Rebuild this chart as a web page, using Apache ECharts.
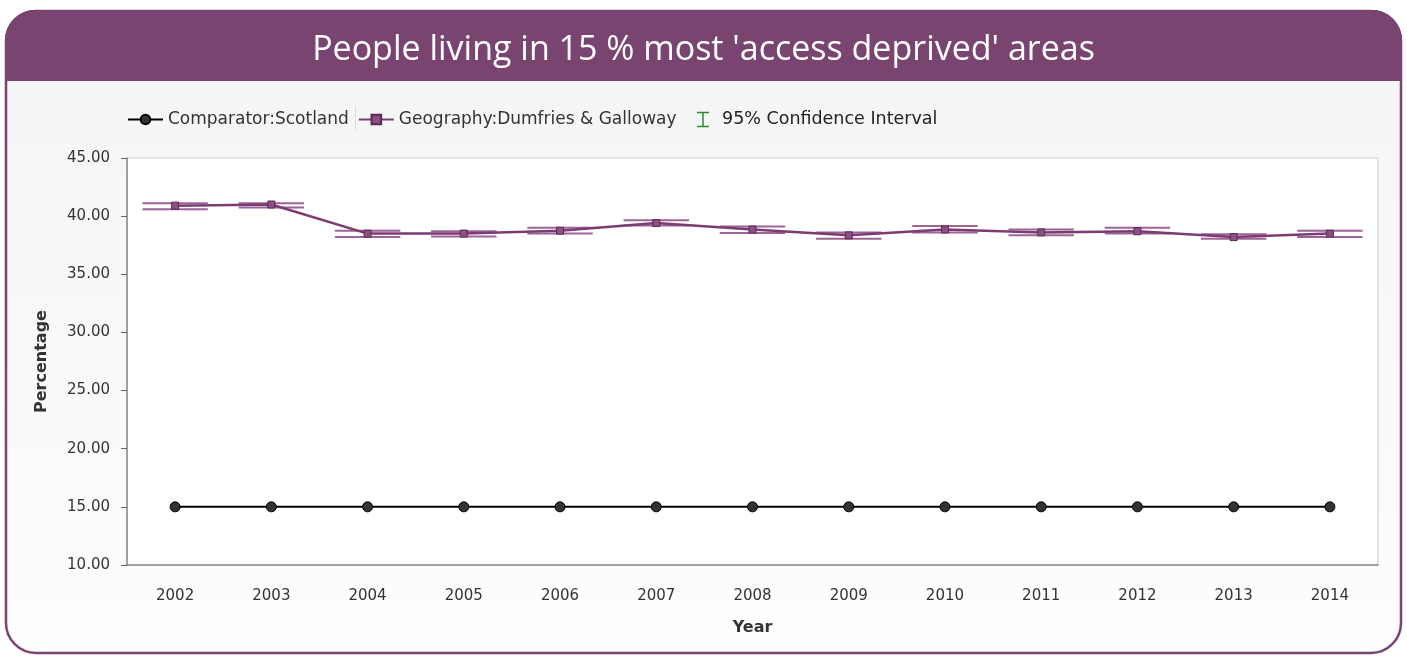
<!DOCTYPE html>
<html>
<head>
<meta charset="utf-8">
<script src="https://cdn.jsdelivr.net/npm/echarts@6/dist/echarts.min.js"></script>
<style>
html,body{margin:0;padding:0;background:#fff;}
#chart{width:1407px;height:657px;}
</style>
</head>
<body>
<div id="chart"></div>
<script>
var years = ['2002','2003','2004','2005','2006','2007','2008','2009','2010','2011','2012','2013','2014'];
var scotland = [15.0,15.0,15.0,15.0,15.0,15.0,15.0,15.0,15.0,15.0,15.0,15.0,15.0];
var dumfries = [40.9,41.0,38.5,38.5,38.75,39.4,38.85,38.35,38.85,38.6,38.7,38.2,38.5];
var ciLower  = [40.6,40.75,38.2,38.25,38.5,39.2,38.55,38.05,38.6,38.35,38.5,38.05,38.2];
var ciUpper  = [41.1,41.1,38.75,38.7,39.0,39.65,39.1,38.6,39.15,38.85,39.0,38.45,38.75];
var yTicks = [10,15,20,25,30,35,40,45];

var FONT = 'DejaVu Sans';
var PURPLE = '#7a4470';
var ciData = years.map(function(y,i){ return [i, ciLower[i], ciUpper[i]]; });

var chart = echarts.init(document.getElementById('chart'), null, {renderer:'canvas'});
chart.setOption({
  animation:false,
  backgroundColor:'#ffffff',
  graphic:[
    {type:'rect', z:-10, shape:{x:6,y:11,width:1395,height:642,r:30},
     style:{fill:new echarts.graphic.LinearGradient(0,0,0,1,[{offset:0,color:'#f4f4f4'},{offset:1,color:'#fdfdfd'}]), stroke:PURPLE, lineWidth:2.5}},
    {type:'rect', z:-9, shape:{x:5,y:10,width:1397,height:71,r:[30,30,0,0]}, style:{fill:PURPLE}},
    {type:'line', z:5, shape:{x1:355.5,y1:106,x2:355.5,y2:131}, style:{stroke:'#dddddd',lineWidth:1}},
    {type:'group', z:5, children:[
      {type:'line', shape:{x1:697,y1:112.5,x2:709,y2:112.5}, style:{stroke:'#2e8b2e',lineWidth:1.5}},
      {type:'line', shape:{x1:703,y1:112.5,x2:703,y2:126.5}, style:{stroke:'#2e8b2e',lineWidth:1.5}},
      {type:'line', shape:{x1:697,y1:126.5,x2:709,y2:126.5}, style:{stroke:'#2e8b2e',lineWidth:1.5}},
      {type:'text', x:722, y:119, style:{text:'95% Confidence Interval', font:'17.5px "DejaVu Sans"', fill:'#222', textVerticalAlign:'middle', textAlign:'left'}}
    ]}
  ],
  title:{
    text:"People living in 15 % most 'access deprived' areas",
    left:'center', top:28,
    textStyle:{color:'#ffffff', fontFamily:'Open Sans', fontSize:34, fontWeight:'normal'}
  },
  legend:{
    left:127, top:111, padding:0, itemGap:9, itemWidth:35, itemHeight:12,
    textStyle:{fontFamily:FONT, fontSize:17, color:'#333'},
    data:[
      {name:'Comparator:Scotland'},
      {name:'Geography:Dumfries & Galloway'}
    ]
  },
  grid:{left:127, top:158, right:29, bottom:92, show:true, backgroundColor:'#ffffff', borderColor:'#cccccc', borderWidth:1},
  xAxis:{
    type:'category', data:years, boundaryGap:true,
    name:'Year', nameLocation:'middle', nameGap:55,
    nameTextStyle:{fontFamily:FONT, fontSize:16, fontWeight:'bold', color:'#333'},
    axisLine:{lineStyle:{color:'#888', width:1.5}},
    axisTick:{alignWithLabel:true, length:6, lineStyle:{color:'#666'}},
    axisLabel:{fontFamily:FONT, fontSize:15, color:'#333', margin:24},
    splitLine:{show:false}
  },
  yAxis:{
    type:'value', min:10, max:45, interval:5,
    name:'Percentage', nameLocation:'middle', nameGap:77, nameRotate:90,
    nameTextStyle:{fontFamily:FONT, fontSize:16, fontWeight:'bold', color:'#333'},
    axisLine:{show:true, lineStyle:{color:'#888', width:1.5}},
    axisTick:{show:true, length:6, lineStyle:{color:'#666'}},
    axisLabel:{fontFamily:FONT, fontSize:15, color:'#333', margin:17, formatter:function(v){return v.toFixed(2);}},
    splitLine:{show:false}
  },
  series:[
    {name:'Comparator:Scotland', type:'line', data:scotland,
     symbol:'circle', symbolSize:10,
     lineStyle:{color:'#000', width:2},
     itemStyle:{color:'#333', borderColor:'#000', borderWidth:1}},
    {name:'Geography:Dumfries & Galloway', type:'line', data:dumfries,
     symbol:'rect', symbolSize:7, z:3,
     lineStyle:{color:'#7b3b73', width:2.5},
     itemStyle:{color:'#8e4f86', borderColor:'#5a2a55', borderWidth:1}},
    {name:'95% Confidence Interval', type:'custom', data:ciData, z:2,
     itemStyle:{color:'#2e8b2e'},
     renderItem:function(params, api){
       var x = api.value(0);
       var lo = api.coord([x, api.value(1)]);
       var hi = api.coord([x, api.value(2)]);
       var w = api.size([1,0])[0]*0.34;
       var st = {stroke:'#8b4a83', lineWidth:2, opacity:0.85};
       return {type:'group', children:[
         {type:'line', shape:{x1:hi[0]-w,y1:hi[1],x2:hi[0]+w,y2:hi[1]}, style:st},
         {type:'line', shape:{x1:lo[0]-w,y1:lo[1],x2:lo[0]+w,y2:lo[1]}, style:st}
       ]};
     }}
  ]
});
</script>
</body>
</html>
